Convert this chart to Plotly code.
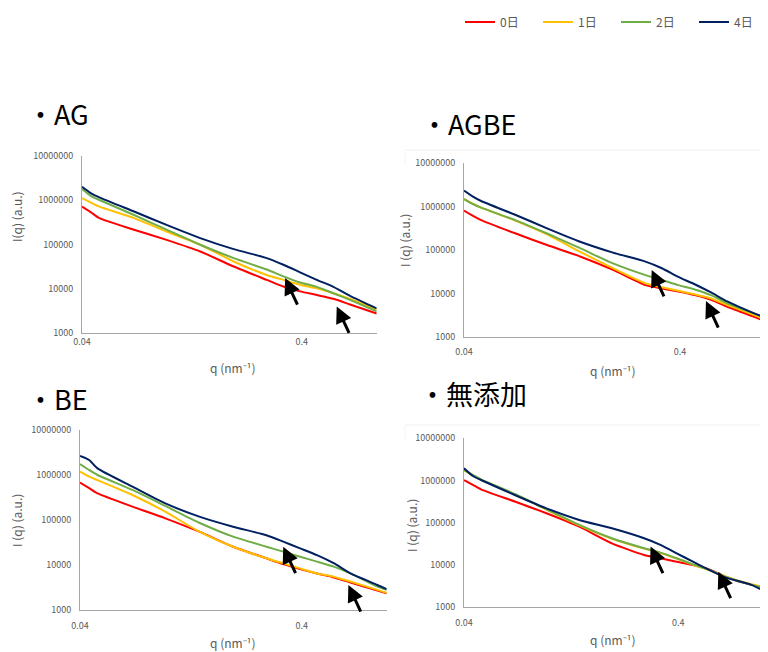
import numpy as np
import plotly.graph_objects as go

# ---------------- data ----------------
series_names = ["0日", "1日", "2日", "4日"]
series_colors = ["#FF0000", "#FFC000", "#70AD47", "#002060"]

# AG
q_ag = [0.04, 0.044, 0.048, 0.069, 0.097, 0.138, 0.196, 0.277, 0.33, 0.393, 0.468, 0.557, 0.663, 0.877]
ag_day0 = [7.1e5, 5.25e5, 3.9e5, 2.14e5, 1.26e5, 6.9e4, 3.16e4, 1.58e4, 1.12e4, 8.7e3, 7.2e3, 5.9e3, 4.4e3, 2.75e3]
ag_day1 = [1.1e6, 8.7e5, 7.1e5, 3.9e5, 1.95e5, 9.8e4, 4.1e4, 2.04e4, 1.58e4, 1.23e4, 1.02e4, 7.9e3, 5.9e3, 3.4e3]
ag_day2 = [1.78e6, 1.23e6, 1.0e6, 4.6e5, 2.14e5, 9.8e4, 4.9e4, 2.7e4, 1.9e4, 1.38e4, 1.1e4, 7.9e3, 5.6e3, 3.1e3]
ag_day4 = [2.0e6, 1.42e6, 1.15e6, 5.5e5, 2.75e5, 1.38e5, 7.8e4, 4.9e4, 3.47e4, 2.34e4, 1.58e4, 1.1e4, 6.9e3, 3.6e3]
ag_arrow_q = [0.336, 0.577]
ag_arrow_I = [17300, 3980]

# AGBE
q_agbe = [0.04, 0.044, 0.048, 0.069, 0.097, 0.138, 0.196, 0.277, 0.33, 0.393, 0.468, 0.557, 0.663, 0.877, 0.97]
agbe_day0 = [8.1e5, 6.1e5, 4.9e5, 2.43e5, 1.3e5, 7.1e4, 3.47e4, 1.55e4, 1.3e4, 1.1e4, 9.1e3, 7.1e3, 4.9e3, 2.9e3, 2.4e3]
agbe_day1 = [1.5e6, 1.15e6, 9.5e5, 4.8e5, 2.3e5, 9.1e4, 3.8e4, 1.7e4, 1.38e4, 1.15e4, 9.5e3, 7.6e3, 5.4e3, 3.2e3, 2.6e3]
agbe_day2 = [1.5e6, 1.15e6, 9.5e5, 4.9e5, 2.4e5, 1.1e5, 4.9e4, 2.63e4, 2.04e4, 1.55e4, 1.23e4, 9.1e3, 5.9e3, 3.5e3, 2.9e3]
agbe_day4 = [2.34e6, 1.7e6, 1.35e6, 6.5e5, 3.16e5, 1.55e5, 8.7e4, 5.4e4, 3.8e4, 2.4e4, 1.62e4, 1.05e4, 6.5e3, 3.5e3, 2.9e3]
agbe_arrow_q = [0.296, 0.528]
agbe_arrow_I = [34600, 6650]

# BE
q_be = [0.04, 0.044, 0.048, 0.069, 0.097, 0.138, 0.196, 0.277, 0.33, 0.393, 0.468, 0.557, 0.663, 0.877, 0.966]
be_day0 = [6.8e5, 5.1e5, 3.9e5, 1.98e5, 1.09e5, 5.5e4, 2.55e4, 1.41e4, 1.05e4, 8.1e3, 6.5e3, 5.3e3, 4.1e3, 2.7e3, 2.35e3]
be_day1 = [1.19e6, 9.2e5, 7.7e5, 3.6e5, 1.53e5, 5.5e4, 2.55e4, 1.41e4, 1.09e4, 8.4e3, 6.5e3, 5.5e3, 4.3e3, 2.8e3, 2.4e3]
be_day2 = [1.75e6, 1.29e6, 1.0e6, 4.65e5, 2.05e5, 8.7e4, 4.27e4, 2.55e4, 1.98e4, 1.53e4, 1.19e4, 9.2e3, 6.5e3, 3.3e3, 2.8e3]
be_day4 = [2.64e6, 2.15e6, 1.4e6, 5.5e5, 2.34e5, 1.19e5, 7.1e4, 4.6e4, 3.3e4, 2.34e4, 1.66e4, 1.1e4, 6.5e3, 3.6e3, 2.9e3]
be_arrow_q = [0.33, 0.649]
be_arrow_I = [25500, 3590]

# 無添加
q_mu = [0.04, 0.044, 0.048, 0.069, 0.097, 0.138, 0.196, 0.277, 0.33, 0.393, 0.468, 0.557, 0.663, 0.877, 0.98]
mu_day0 = [1.03e6, 7.9e5, 6.2e5, 3.2e5, 1.68e5, 8.1e4, 3.27e4, 1.73e4, 1.45e4, 1.2e4, 1.0e4, 7.9e3, 5.3e3, 3.4e3, 3.1e3]
mu_day1 = [1.74e6, 1.33e6, 1.05e6, 4.7e5, 2.05e5, 8.7e4, 4.2e4, 2.45e4, 1.93e4, 1.42e4, 1.02e4, 7.6e3, 5.4e3, 3.5e3, 3.1e3]
mu_day2 = [1.78e6, 1.36e6, 1.07e6, 4.8e5, 2.09e5, 8.9e4, 4.3e4, 2.5e4, 1.97e4, 1.45e4, 1.04e4, 7.7e3, 5.3e3, 3.4e3, 3.0e3]
mu_day4 = [1.95e6, 1.28e6, 1.03e6, 4.56e5, 2.2e5, 1.17e5, 7.4e4, 4.3e4, 3.0e4, 1.9e4, 1.2e4, 7.7e3, 5.1e3, 3.4e3, 2.6e3]
mu_arrow_q = [0.297, 0.615]
mu_arrow_I = [27300, 6980]

x_tick_vals = [0.04, 0.4]
x_tick_text = ["0.04", "0.4"]
y_tick_vals = [1e3, 1e4, 1e5, 1e6, 1e7]
y_tick_text = ["1000", "10000", "100000", "1000000", "10000000"]

panel_titles = ["・AG", "・AGBE", "・BE", "・無添加"]
y_titles = ["I(q) (a.u.)", "I (q) (a.u.)", "I (q) (a.u.)", "I (q) (a.u.)"]
x_title = "q (nm⁻¹)"

# ---------------- layout (pixel geometry, page pixels) ----------------
OFF = 8                     # page body margin
W, H = 768 - OFF, 652 - OFF
FONT = "Noto Sans CJK JP"
GRAY = "#595959"


def px_x(v):
    return (v - OFF) / W


def px_y(v):
    return 1 - (v - OFF) / H


panels = [
    dict(q=q_ag, I=[ag_day0, ag_day1, ag_day2, ag_day4], aq=ag_arrow_q, aI=ag_arrow_I,
         xpx=(82, 376.7), ypx=(155.7, 333), tpos=(25, 113), ytpos=(17, 217), xtpos=(233, 367),
         xstand=0, border=None),
    dict(q=q_agbe, I=[agbe_day0, agbe_day1, agbe_day2, agbe_day4], aq=agbe_arrow_q, aI=agbe_arrow_I,
         xpx=(464, 763), ypx=(163.3, 336.7), tpos=(419, 123), ytpos=(404, 240), xtpos=(613, 370),
         xstand=6, border=(405, 150)),
    dict(q=q_be, I=[be_day0, be_day1, be_day2, be_day4], aq=be_arrow_q, aI=be_arrow_I,
         xpx=(80, 386.7), ypx=(430, 610), tpos=(25, 399), ytpos=(16, 521), xtpos=(233, 642),
         xstand=7, border=None),
    dict(q=q_mu, I=[mu_day0, mu_day1, mu_day2, mu_day4], aq=mu_arrow_q, aI=mu_arrow_I,
         xpx=(464, 761.7), ypx=(438.3, 607.3), tpos=(417, 393), ytpos=(411, 526), xtpos=(613, 639),
         xstand=7, border=(405, 425)),
]

fig = go.Figure()
annotations = []
shapes = []
layout_axes = {}

for i, p in enumerate(panels):
    n = i + 1
    xa = "x" if n == 1 else f"x{n}"
    ya = "y" if n == 1 else f"y{n}"
    for k in range(4):
        fig.add_trace(go.Scatter(
            x=p["q"], y=p["I"][k], mode="lines", name=series_names[k],
            line=dict(color=series_colors[k], width=2, shape="spline", smoothing=0.6),
            xaxis=xa, yaxis=ya, showlegend=(i == 0), legendrank=k,
        ))
    xd = [px_x(p["xpx"][0]), px_x(p["xpx"][1])]
    yd = [px_y(p["ypx"][1]), px_y(p["ypx"][0])]
    layout_axes["xaxis" if n == 1 else f"xaxis{n}"] = dict(
        type="log", domain=xd, anchor=ya,
        range=[np.log10(0.04), np.log10(p["q"][-1])],
        tickvals=x_tick_vals, ticktext=x_tick_text, ticks="",
        showline=True, linecolor="#a6a6a6", linewidth=1,
        showgrid=False, zeroline=False, ticklabelstandoff=p["xstand"],
        tickfont=dict(size=9, color=GRAY, family=FONT),
    )
    layout_axes["yaxis" if n == 1 else f"yaxis{n}"] = dict(
        type="log", domain=yd, anchor=xa, range=[3, 7],
        tickvals=y_tick_vals, ticktext=y_tick_text, ticks="",
        showline=True, linecolor="#a6a6a6", linewidth=1,
        showgrid=False, zeroline=False, ticklabelstandoff=6,
        tickfont=dict(size=9, color=GRAY, family=FONT),
    )
    # faint chart-area border of the pasted chart
    if p["border"] is not None:
        bx, by = p["border"]
        shapes.append(dict(type="line", xref="paper", yref="paper",
                           x0=px_x(bx), x1=px_x(770), y0=px_y(by), y1=px_y(by),
                           line=dict(color="#f0f0f0", width=1)))
        shapes.append(dict(type="line", xref="paper", yref="paper",
                           x0=px_x(bx), x1=px_x(bx), y0=px_y(by), y1=px_y(by + 15),
                           line=dict(color="#f4f4f4", width=1)))
    # panel title
    annotations.append(dict(
        text=panel_titles[i], xref="paper", yref="paper",
        x=px_x(p["tpos"][0]), y=px_y(p["tpos"][1]), xanchor="left", yanchor="middle",
        showarrow=False, font=dict(size=27, color="#000000", family=FONT)))
    # y title
    annotations.append(dict(
        text=y_titles[i], xref="paper", yref="paper", textangle=-90,
        x=px_x(p["ytpos"][0]), y=px_y(p["ytpos"][1]), xanchor="center", yanchor="middle",
        showarrow=False, font=dict(size=12, color=GRAY, family=FONT)))
    # x title
    annotations.append(dict(
        text=x_title, xref="paper", yref="paper",
        x=px_x(p["xtpos"][0]), y=px_y(p["xtpos"][1]), xanchor="center", yanchor="middle",
        showarrow=False, font=dict(size=12, color=GRAY, family=FONT)))
    # arrows
    for aq, aI in zip(p["aq"], p["aI"]):
        annotations.append(dict(
            x=np.log10(aq), y=np.log10(aI), xref=xa, yref=ya,
            ax=13, ay=28, axref="pixel", ayref="pixel",
            showarrow=True, arrowhead=2, arrowsize=1.1, arrowwidth=3, arrowcolor="#000000", text=""))

fig.update_layout(
    width=W, height=H, margin=dict(l=0, r=0, t=0, b=0, autoexpand=False),
    paper_bgcolor="#ffffff", plot_bgcolor="rgba(0,0,0,0)",
    font=dict(family=FONT, color=GRAY),
    annotations=annotations, shapes=shapes,
    showlegend=True,
    legend=dict(orientation="h", xref="container", yref="container",
                x=px_x(460), y=px_y(22), xanchor="left", yanchor="middle",
                font=dict(size=12, color=GRAY, family=FONT), bgcolor="rgba(0,0,0,0)",
                entrywidth=33, entrywidthmode="pixels", traceorder="normal"),
    **layout_axes,
)

fig.write_html("out.html")
